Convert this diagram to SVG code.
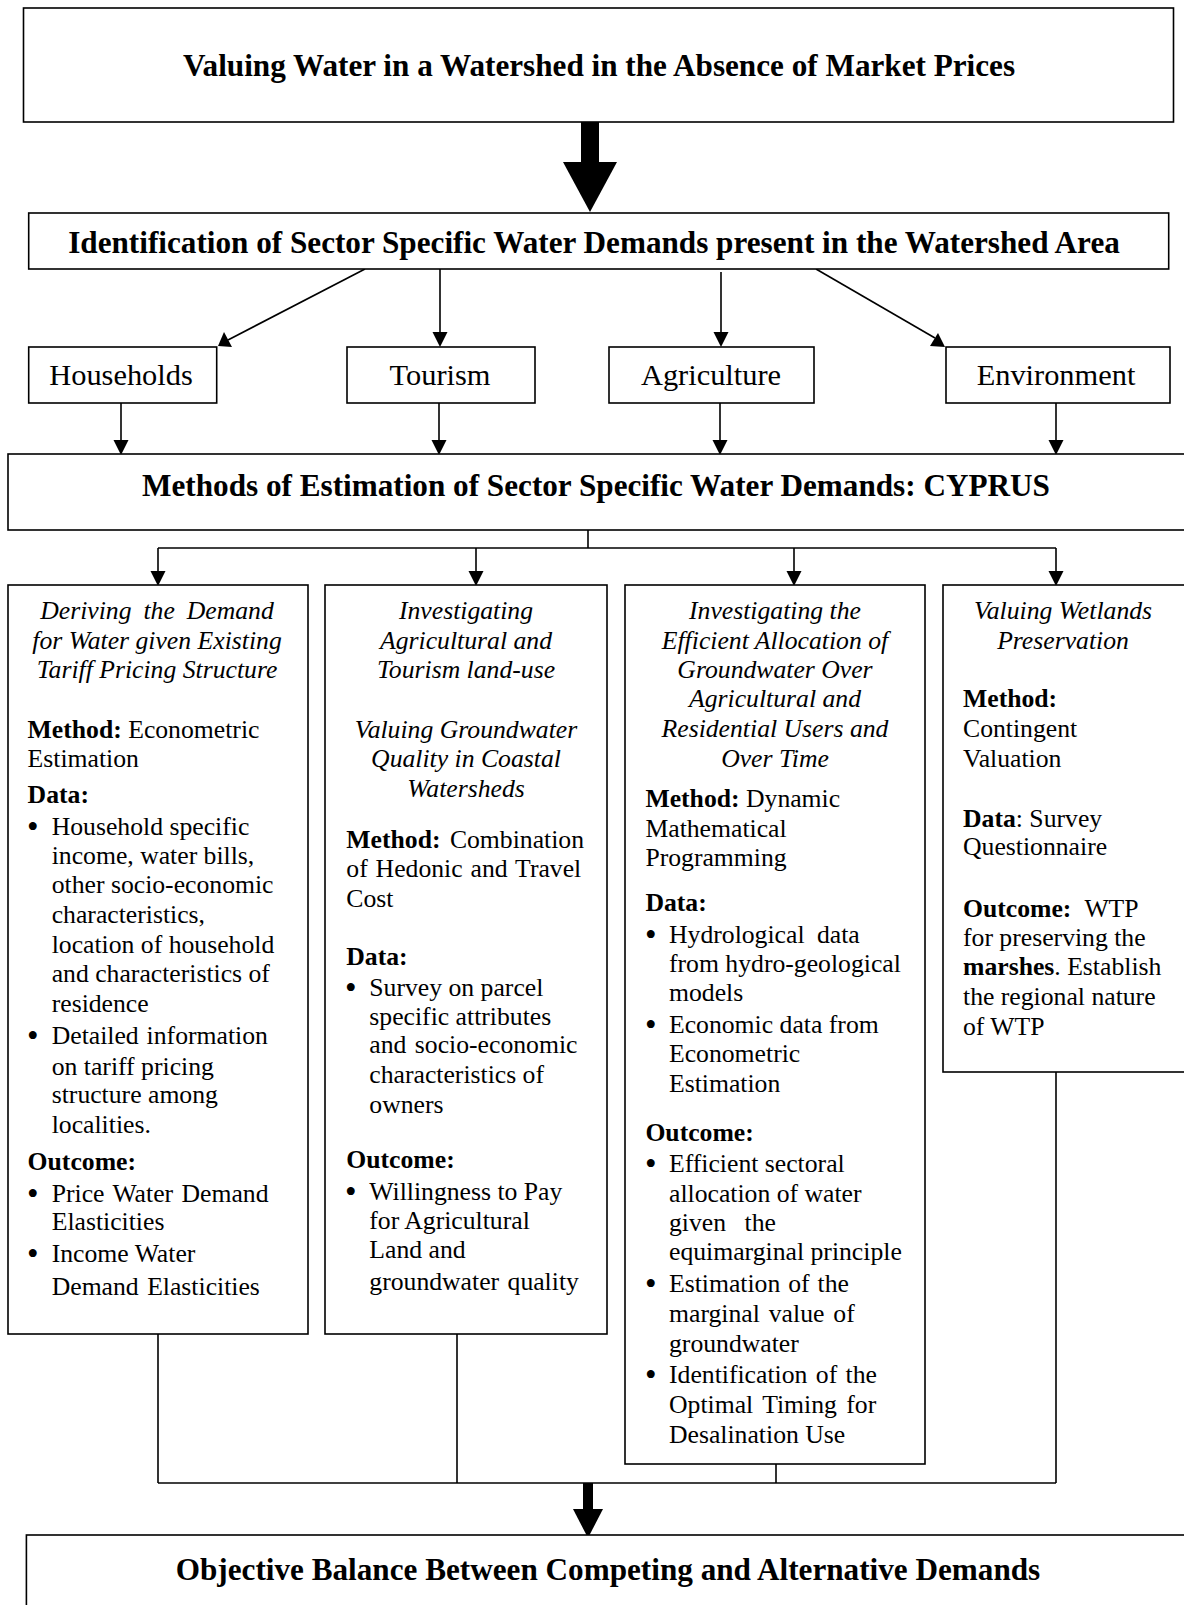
<svg xmlns="http://www.w3.org/2000/svg" width="1184" height="1605" viewBox="0 0 1184 1605">
<style>
.box{fill:#fff;stroke:#000;stroke-width:1.6}
.ttl{font-family:"Liberation Serif",serif;font-weight:bold;font-size:31.2px;text-anchor:middle;fill:#000}
.sec{font-family:"Liberation Serif",serif;font-size:30.4px;text-anchor:middle;fill:#000}
.b{font-family:"Liberation Serif",serif;font-size:25.7px;fill:#000}
.i{font-family:"Liberation Serif",serif;font-size:25.7px;font-style:italic;text-anchor:middle;fill:#000}
.bd{font-weight:bold}
.bu{font-family:"Liberation Serif",serif;font-size:33px;fill:#000}
.ln{stroke:#000;stroke-width:1.6;fill:none}
.ah{fill:#000;stroke:none}
</style>
<rect width="1184" height="1605" fill="#fff"/>

<g id="connectors">
  <rect class="ah" x="581" y="122" width="18" height="41"/>
  <polygon class="ah" points="563,162 617,162 590,212"/>
  <line class="ln" x1="365" y1="269" x2="228" y2="340"/>
  <polygon class="ah" points="218,346 224,332 232,347"/>
  <line class="ln" x1="440" y1="269" x2="440" y2="333"/>
  <polygon class="ah" points="432.5,332 447.5,332 440,347"/>
  <line class="ln" x1="721" y1="272" x2="721" y2="333"/>
  <polygon class="ah" points="713.5,332 728.5,332 721,347"/>
  <line class="ln" x1="816" y1="269" x2="935" y2="338"/>
  <polygon class="ah" points="945,347 930,346 938,333"/>
  <line class="ln" x1="121" y1="403" x2="121" y2="441"/>
  <polygon class="ah" points="113.5,440 128.5,440 121,455"/>
  <line class="ln" x1="439" y1="403" x2="439" y2="441"/>
  <polygon class="ah" points="431.5,440 446.5,440 439,455"/>
  <line class="ln" x1="720" y1="403" x2="720" y2="441"/>
  <polygon class="ah" points="712.5,440 727.5,440 720,455"/>
  <line class="ln" x1="1056" y1="403" x2="1056" y2="441"/>
  <polygon class="ah" points="1048.5,440 1063.5,440 1056,455"/>
  <line class="ln" x1="588" y1="530" x2="588" y2="548"/>
  <line class="ln" x1="158" y1="548" x2="1056" y2="548"/>
  <line class="ln" x1="158" y1="548" x2="158" y2="572"/>
  <polygon class="ah" points="150.5,571 165.5,571 158,586"/>
  <line class="ln" x1="476" y1="548" x2="476" y2="572"/>
  <polygon class="ah" points="468.5,571 483.5,571 476,586"/>
  <line class="ln" x1="794" y1="548" x2="794" y2="572"/>
  <polygon class="ah" points="786.5,571 801.5,571 794,586"/>
  <line class="ln" x1="1056" y1="548" x2="1056" y2="572"/>
  <polygon class="ah" points="1048.5,571 1063.5,571 1056,586"/>
  <line class="ln" x1="158" y1="1334" x2="158" y2="1483"/>
  <line class="ln" x1="457" y1="1334" x2="457" y2="1483"/>
  <line class="ln" x1="776" y1="1464" x2="776" y2="1483"/>
  <line class="ln" x1="1056" y1="1072" x2="1056" y2="1483"/>
  <line class="ln" x1="158" y1="1483" x2="1056" y2="1483"/>
  <rect class="ah" x="583" y="1483" width="10" height="27"/>
  <polygon class="ah" points="573,1509 603,1509 588,1538"/>
</g>

<g id="top">
  <rect class="box" x="23.5" y="8" width="1150" height="114"/>
  <text class="ttl" x="599" y="76">Valuing Water in a Watershed in the Absence of Market Prices</text>
</g>

<g id="identification">
  <rect class="box" x="28.7" y="213" width="1140" height="56"/>
  <text class="ttl" x="594" y="253">Identification of Sector Specific Water Demands present in the Watershed Area</text>
</g>

<g id="households">
  <rect class="box" x="28.7" y="347" width="188" height="56"/>
  <text class="sec" x="121" y="385">Households</text>
</g>
<g id="tourism">
  <rect class="box" x="347" y="347" width="188" height="56"/>
  <text class="sec" x="440" y="385">Tourism</text>
</g>
<g id="agriculture">
  <rect class="box" x="609" y="347" width="205" height="56"/>
  <text class="sec" x="711" y="385">Agriculture</text>
</g>
<g id="environment">
  <rect class="box" x="946" y="347" width="224" height="56"/>
  <text class="sec" x="1056" y="385">Environment</text>
</g>

<g id="methods">
  <rect class="box" x="8" y="454" width="1190" height="76"/>
  <text class="ttl" x="596" y="496">Methods of Estimation of Sector Specific Water Demands: CYPRUS</text>
</g>

<g id="col1">
  <rect class="box" x="8" y="585" width="300" height="749"/>
  <text class="i" x="157" y="619" word-spacing="5.5">Deriving the Demand</text>
  <text class="i" x="157" y="649">for Water given Existing</text>
  <text class="i" x="157" y="678">Tariff Pricing Structure</text>
  <text class="b" x="27.6" y="738"><tspan class="bd">Method:</tspan> Econometric</text>
  <text class="b" x="27.6" y="767">Estimation</text>
  <text class="b bd" x="27.6" y="803">Data:</text>
  <text class="bu" x="27" y="838">•</text>
  <text class="b" x="51.7" y="835">Household specific</text>
  <text class="b" x="51.7" y="864">income, water bills,</text>
  <text class="b" x="51.7" y="893">other socio-economic</text>
  <text class="b" x="51.7" y="923">characteristics,</text>
  <text class="b" x="51.7" y="953">location of household</text>
  <text class="b" x="51.7" y="982">and characteristics of</text>
  <text class="b" x="51.7" y="1012">residence</text>
  <text class="bu" x="27" y="1047">•</text>
  <text class="b" x="51.7" y="1044" word-spacing="1.5">Detailed information</text>
  <text class="b" x="51.7" y="1075">on tariff pricing</text>
  <text class="b" x="51.7" y="1103">structure among</text>
  <text class="b" x="51.7" y="1133">localities.</text>
  <text class="b bd" x="27.6" y="1170">Outcome:</text>
  <text class="bu" x="27" y="1205">•</text>
  <text class="b" x="51.7" y="1202" word-spacing="2">Price Water Demand</text>
  <text class="b" x="51.7" y="1230">Elasticities</text>
  <text class="bu" x="27" y="1265">•</text>
  <text class="b" x="51.7" y="1262">Income Water</text>
  <text class="b" x="51.7" y="1295" word-spacing="2">Demand Elasticities</text>
</g>

<g id="col2">
  <rect class="box" x="325" y="585" width="282" height="749"/>
  <text class="i" x="466" y="619">Investigating</text>
  <text class="i" x="466" y="649">Agricultural and</text>
  <text class="i" x="466" y="678">Tourism land-use</text>
  <text class="i" x="466" y="738">Valuing Groundwater</text>
  <text class="i" x="466" y="767">Quality in Coastal</text>
  <text class="i" x="466" y="797">Watersheds</text>
  <text class="b" x="346.3" y="848" word-spacing="3"><tspan class="bd">Method:</tspan> Combination</text>
  <text class="b" x="346.3" y="877" word-spacing="1.5">of Hedonic and Travel</text>
  <text class="b" x="346.3" y="907">Cost</text>
  <text class="b bd" x="346.3" y="965">Data:</text>
  <text class="bu" x="345" y="999">•</text>
  <text class="b" x="369.3" y="996">Survey on parcel</text>
  <text class="b" x="369.3" y="1025">specific attributes</text>
  <text class="b" x="369.3" y="1053" word-spacing="2">and socio-economic</text>
  <text class="b" x="369.3" y="1083">characteristics of</text>
  <text class="b" x="369.3" y="1113">owners</text>
  <text class="b bd" x="346.3" y="1168">Outcome:</text>
  <text class="bu" x="345" y="1203">•</text>
  <text class="b" x="369.3" y="1200">Willingness to Pay</text>
  <text class="b" x="369.3" y="1229">for Agricultural</text>
  <text class="b" x="369.3" y="1258">Land and</text>
  <text class="b" x="369.3" y="1290" word-spacing="2">groundwater quality</text>
</g>

<g id="col3">
  <rect class="box" x="625" y="585" width="300" height="879"/>
  <text class="i" x="775" y="619">Investigating the</text>
  <text class="i" x="775" y="649">Efficient Allocation of</text>
  <text class="i" x="775" y="678">Groundwater Over</text>
  <text class="i" x="775" y="707">Agricultural and</text>
  <text class="i" x="775" y="737">Residential Users and</text>
  <text class="i" x="775" y="767">Over Time</text>
  <text class="b" x="645.4" y="807"><tspan class="bd">Method:</tspan> Dynamic</text>
  <text class="b" x="645.4" y="837">Mathematical</text>
  <text class="b" x="645.4" y="866">Programming</text>
  <text class="b bd" x="645.4" y="911">Data:</text>
  <text class="bu" x="645" y="946">•</text>
  <text class="b" x="669" y="943" word-spacing="6">Hydrological data</text>
  <text class="b" x="669" y="972">from hydro-geological</text>
  <text class="b" x="669" y="1001">models</text>
  <text class="bu" x="645" y="1036">•</text>
  <text class="b" x="669" y="1033">Economic data from</text>
  <text class="b" x="669" y="1062">Econometric</text>
  <text class="b" x="669" y="1092">Estimation</text>
  <text class="b bd" x="645.4" y="1141">Outcome:</text>
  <text class="bu" x="645" y="1175">•</text>
  <text class="b" x="669" y="1172">Efficient sectoral</text>
  <text class="b" x="669" y="1202">allocation of water</text>
  <text class="b" x="669" y="1231" word-spacing="12">given the</text>
  <text class="b" x="669" y="1260">equimarginal principle</text>
  <text class="bu" x="645" y="1295">•</text>
  <text class="b" x="669" y="1292" word-spacing="1.5">Estimation of the</text>
  <text class="b" x="669" y="1322" word-spacing="2.5">marginal value of</text>
  <text class="b" x="669" y="1352">groundwater</text>
  <text class="bu" x="645" y="1386">•</text>
  <text class="b" x="669" y="1383" word-spacing="2">Identification of the</text>
  <text class="b" x="669" y="1413" word-spacing="3">Optimal Timing for</text>
  <text class="b" x="669" y="1443">Desalination Use</text>
</g>

<g id="col4">
  <rect class="box" x="943" y="585" width="260" height="487"/>
  <text class="i" x="1063" y="619">Valuing Wetlands</text>
  <text class="i" x="1063" y="649">Preservation</text>
  <text class="b bd" x="963" y="707">Method:</text>
  <text class="b" x="963" y="737">Contingent</text>
  <text class="b" x="963" y="767">Valuation</text>
  <text class="b" x="963" y="827"><tspan class="bd">Data</tspan>: Survey</text>
  <text class="b" x="963" y="855">Questionnaire</text>
  <text class="b" x="963" y="917" word-spacing="7"><tspan class="bd">Outcome:</tspan> WTP</text>
  <text class="b" x="963" y="946">for preserving the</text>
  <text class="b" x="963" y="975"><tspan class="bd">marshes</tspan>. Establish</text>
  <text class="b" x="963" y="1005">the regional nature</text>
  <text class="b" x="963" y="1035">of WTP</text>
</g>

<g id="objective">
  <rect class="box" x="26.4" y="1535" width="1180" height="100"/>
  <text class="ttl" x="608" y="1580">Objective Balance Between Competing and Alternative Demands</text>
</g>
</svg>
